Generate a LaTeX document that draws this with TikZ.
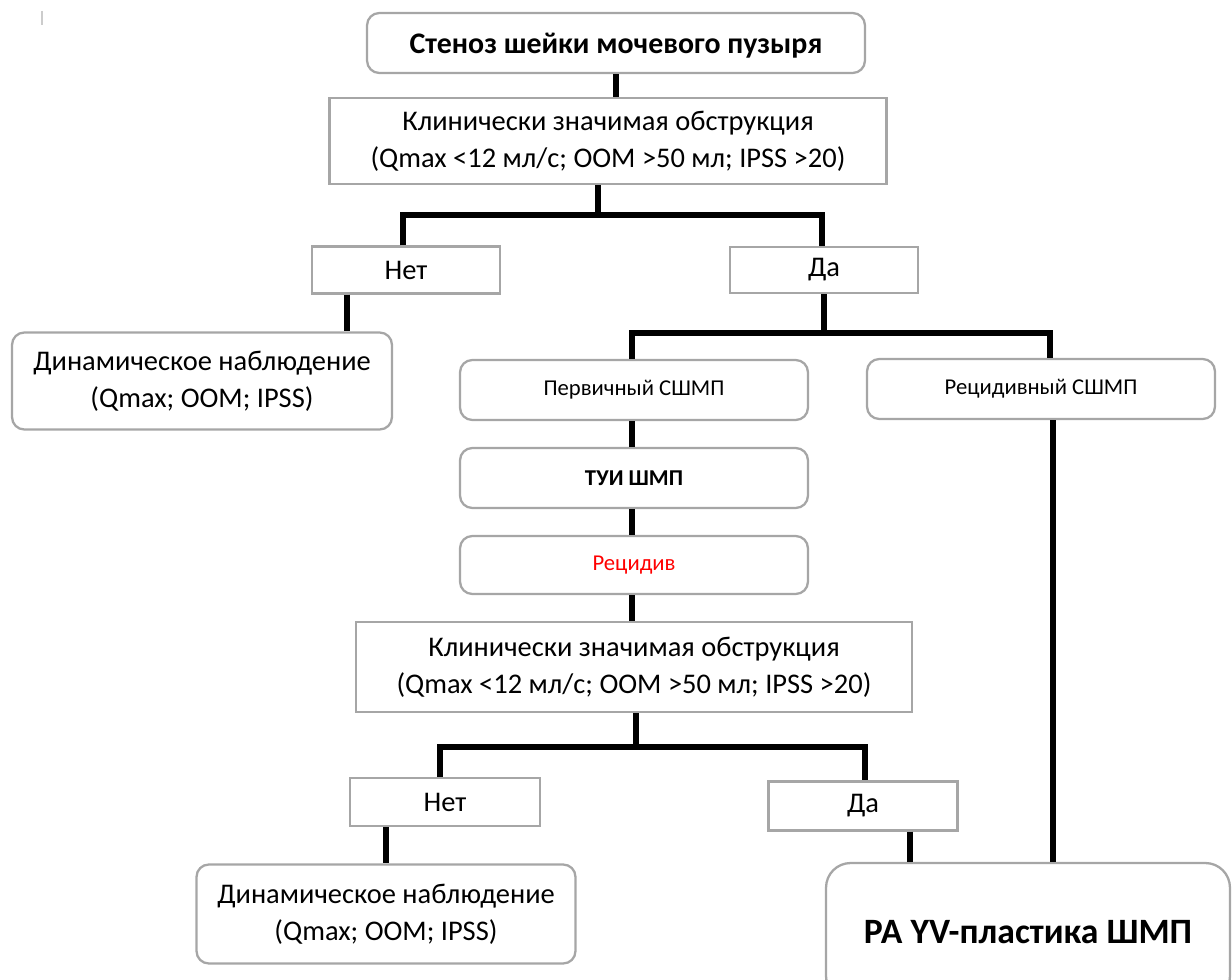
\documentclass[tikz,border=0pt]{standalone}
\usepackage{fontspec}
\setmainfont{Carlito}
\usetikzlibrary{positioning}
\definecolor{boxgray}{RGB}{166,166,166}
\tikzset{
  plainbox/.style={draw=boxgray, line width=1.3pt, fill=white, align=center, inner sep=2pt},
  roundbox/.style={plainbox, rounded corners=7pt},
  smalltext/.style={font=\fontsize{12.9}{15}\selectfont},
  link/.style={black, line width=3pt}
}
\begin{document}
\begin{tikzpicture}[x=0.02cm, y=-0.02cm, font=\fontsize{16.2}{21}\selectfont]
\useasboundingbox (0,0) rectangle (1232,980);

% Cursor mark
\draw[gray!40, line width=0.6pt] (42,11) -- (42,25);

% Upper part
\node[roundbox, minimum width=9.96cm, minimum height=1.2cm, text depth=0pt, font=\fontsize{17}{20}\selectfont\bfseries] (title) at (616,43) {Стеноз шейки мочевого пузыря};
\node[plainbox, minimum width=11.14cm, minimum height=1.72cm] (obsA) at (608,141) {Клинически значимая обструкция\\(Qmax <12 мл/с; OOM >50 мл; IPSS >20)};
\node[plainbox, minimum width=3.76cm, minimum height=0.94cm] (netA) at (406,270) {Нет};
\node[plainbox, minimum width=3.76cm, minimum height=0.92cm] (daA) at (824,270) {Да};
\node[roundbox, minimum width=7.6cm, minimum height=1.94cm] (dynA) at (202,381) {Динамическое наблюдение\\(Qmax; OOM; IPSS)};

% Primary and recurrent
\node[roundbox, smalltext, minimum width=6.96cm, minimum height=1.2cm] (perv) at (634,390) {Первичный СШМП};
\node[roundbox, smalltext, minimum width=6.96cm, minimum height=1.2cm] (recid) at (1041,389) {Рецидивный СШМП};
\node[roundbox, minimum width=6.96cm, minimum height=1.2cm, font=\fontsize{12.9}{15}\selectfont\bfseries] (tui) at (634,478) {ТУИ ШМП};
\node[roundbox, smalltext, minimum width=6.96cm, minimum height=1.16cm, text=red] (relapse) at (634,565) {Рецидив};

% Lower part
\node[plainbox, minimum width=11.12cm, minimum height=1.8cm] (obsB) at (634,667) {Клинически значимая обструкция\\(Qmax <12 мл/с; OOM >50 мл; IPSS >20)};
\node[plainbox, minimum width=3.8cm, minimum height=0.96cm] (netB) at (445,802) {Нет};
\node[plainbox, minimum width=3.78cm, minimum height=0.98cm] (daB) at (863,806) {Да};
\node[roundbox, minimum width=7.58cm, minimum height=1.98cm] (dynB) at (386,914) {Динамическое наблюдение\\(Qmax; OOM; IPSS)};
\node[roundbox, rounded corners=14pt, minimum width=8.08cm, minimum height=2.76cm, font=\fontsize{20.3}{24}\selectfont\bfseries] (ra) at (1028,932) {РА YV-пластика ШМП};

% Connectors
\coordinate (splitA) at (598,215);
\coordinate (splitB) at (824,333);
\coordinate (splitC) at (636,747);
\draw[link] (title) -- (obsA.north -| title.south);
\draw[link] (obsA.south -| splitA) -- (splitA);
\draw[link] (netA.north -| 403,0) |- (splitA) -| (daA.north -| 822,0);
\draw[link] (netA.south -| 347,0) -- (dynA.north -| 347,0);
\draw[link] (daA.south -| splitB) -- (splitB);
\draw[link] (perv.north -| 632,0) |- (splitB) -| (recid.north -| 1050,0);
\draw[link] (perv.south -| 632,0) -- (tui.north -| 632,0);
\draw[link] (tui.south -| 632,0) -- (relapse.north -| 632,0);
\draw[link] (relapse.south -| 632,0) -- (obsB.north -| 632,0);
\draw[link] (obsB.south -| splitC) -- (splitC);
\draw[link] (netB.north -| 440,0) |- (splitC) -| (daB.north -| 865,0);
\draw[link] (netB.south -| 386,0) -- (dynB.north -| 386,0);
\draw[link] (daB.south -| 910,0) -- (ra.north -| 910,0);
\draw[link] (recid.south -| 1053,0) -- (ra.north -| 1053,0);

\end{tikzpicture}
\end{document}
